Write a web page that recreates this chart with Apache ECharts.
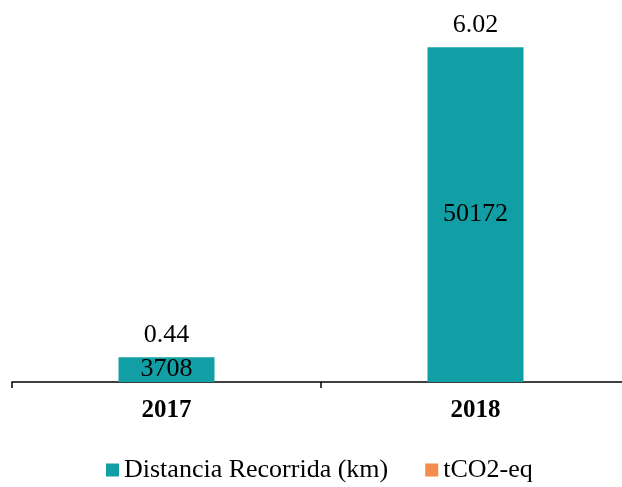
<!DOCTYPE html>
<html lang="es">
<head>
    <meta charset="UTF-8">
    <title>Distancia Recorrida</title>
</head>
<body style="margin:0;overflow:hidden;">
<div id="chartBox" style="width: 630px;height: 487px;"></div>
<script type="text/javascript" src="https://cdn.jsdelivr.net/npm/echarts@6/dist/echarts.min.js"></script>
<script type="text/javascript">
    var years = ["2017", "2018"];
    var distancia = [3708, 50172];
    var co2 = [0.44, 6.02];

    var myChart = echarts.init(document.getElementById("chartBox"));
    var font = "'Liberation Serif', 'Times New Roman', serif";

    // el grafico es un poco mas ancho que la ventana: el eje sale por la derecha
    myChart.setOption({
        animation: false,
        textStyle: { fontFamily: font },
        grid: { left: 12, right: 0, top: 15, bottom: 105 },
        legend: {
            top: 452,
            left: 101,
            itemWidth: 13,
            itemHeight: 13,
            itemGap: 37,
            icon: 'rect',
            textStyle: { fontFamily: font, fontSize: 26, color: '#000' },
            data: ['Distancia Recorrida (km)', 'tCO2-eq']
        },
        xAxis: {
            type: 'category',
            data: years,
            axisLine: { lineStyle: { color: '#000', width: 1.5 } },
            axisTick: { show: true, length: 6, lineStyle: { color: '#000', width: 1.5 } },
            axisLabel: { fontFamily: font, fontSize: 25, fontWeight: 'bold', color: '#000', margin: 16 }
        },
        yAxis: {
            type: 'value',
            min: 0,
            max: 55000,
            show: false
        },
        series: [{
            name: 'Distancia Recorrida (km)',
            type: 'bar',
            stack: 'total',
            barWidth: 96,
            itemStyle: { color: '#129EA5' },
            label: { show: true, position: 'inside', fontFamily: font, fontSize: 26, color: '#000' },
            data: distancia
        }, {
            name: 'tCO2-eq',
            type: 'bar',
            stack: 'total',
            barWidth: 96,
            itemStyle: { color: '#F58B4C' },
            label: { show: true, position: 'top', distance: 9, fontFamily: font, fontSize: 26, color: '#000' },
            data: co2
        }]
    });
</script>
</body>
</html>
